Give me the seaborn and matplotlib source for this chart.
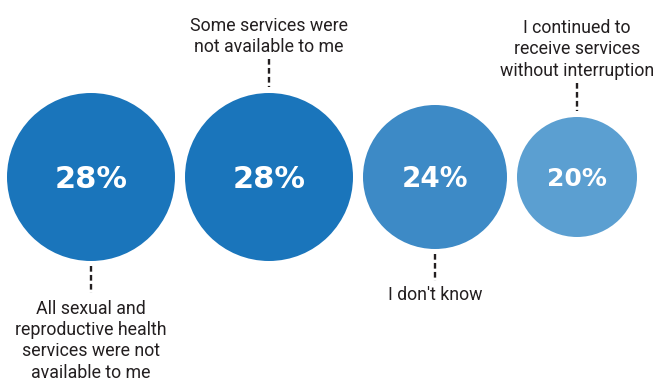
import matplotlib
matplotlib.use("Agg")
import matplotlib.pyplot as plt
from matplotlib import font_manager
import seaborn as sns
import pandas as pd

# ---- data ----
categories = [
    "All sexual and\nreproductive health\nservices were not\navailable to me",
    "Some services were\nnot available to me",
    "I don't know",
    "I continued to\nreceive services\nwithout interruption",
]
values = [28, 28, 24, 20]
value_labels = ["28%", "28%", "24%", "20%"]
label_side = ["below", "above", "below", "above"]
colors = ["#1a75bb", "#1a75bb", "#3d8ac6", "#5b9fd1"]

sns.set_theme(style="white")
available = {f.name for f in font_manager.fontManager.ttflist}
label_font = "Liberation Sans Narrow" if "Liberation Sans Narrow" in available else "Roboto"
plt.rcParams["font.family"] = ["DejaVu Sans"]

W, H, DPI = 657, 385, 100
fig = plt.figure(figsize=(W / DPI, H / DPI), dpi=DPI)
ax = fig.add_axes([0, 0, 1, 1])

# layout: radius proportional to value, circles packed left-to-right
px_per_pct = 3.0
gap = 10
left = 7
cy = 177
radii = [px_per_pct * v for v in values]
xs = []
cur = left
for r in radii:
    xs.append(cur + r)
    cur += 2 * r + gap

df = pd.DataFrame({"cat": categories, "value": values, "x": xs, "y": [cy] * len(values)})
sizes = {c: (2 * r * 72 / DPI) ** 2 for c, r in zip(categories, radii)}
palette = dict(zip(categories, colors))

sns.scatterplot(data=df, x="x", y="y", hue="cat", palette=palette, size="cat",
                sizes=sizes, legend=False, linewidth=0, ax=ax, alpha=1)
ax.set_xlim(0, W)
ax.set_ylim(H, 0)
ax.axis("off")

for x, r, v, vl, cat, side in zip(xs, radii, values, value_labels, categories, label_side):
    ax.text(x, cy + 2, vl, color="white", fontsize=8 + 0.5 * v, fontweight="bold",
            ha="center", va="center", family="DejaVu Sans")
    nlines = cat.count("\n") + 1
    spacing = 22.5
    if side == "above":
        y_end = cy - r - 6
        y_start = y_end - 28
        ax.plot([x, x], [y_start, y_end], color="#231f20", lw=1.7,
                linestyle=(0, (2.4, 1.4)))
        last_center = y_start - 11
        block_center = last_center - (nlines - 1) * spacing / 2
    else:
        y_start = cy + r + 5
        y_end = y_start + 27
        ax.plot([x, x], [y_start, y_end], color="#231f20", lw=1.7,
                linestyle=(0, (2.4, 1.4)))
        first_center = y_end + 14
        block_center = first_center + (nlines - 1) * spacing / 2
    ax.text(x, block_center, cat, color="#231f20", fontsize=12.8, ha="center",
            va="center", linespacing=1.25, family=[label_font, "DejaVu Sans"])

fig.savefig("out.png", dpi=DPI)
